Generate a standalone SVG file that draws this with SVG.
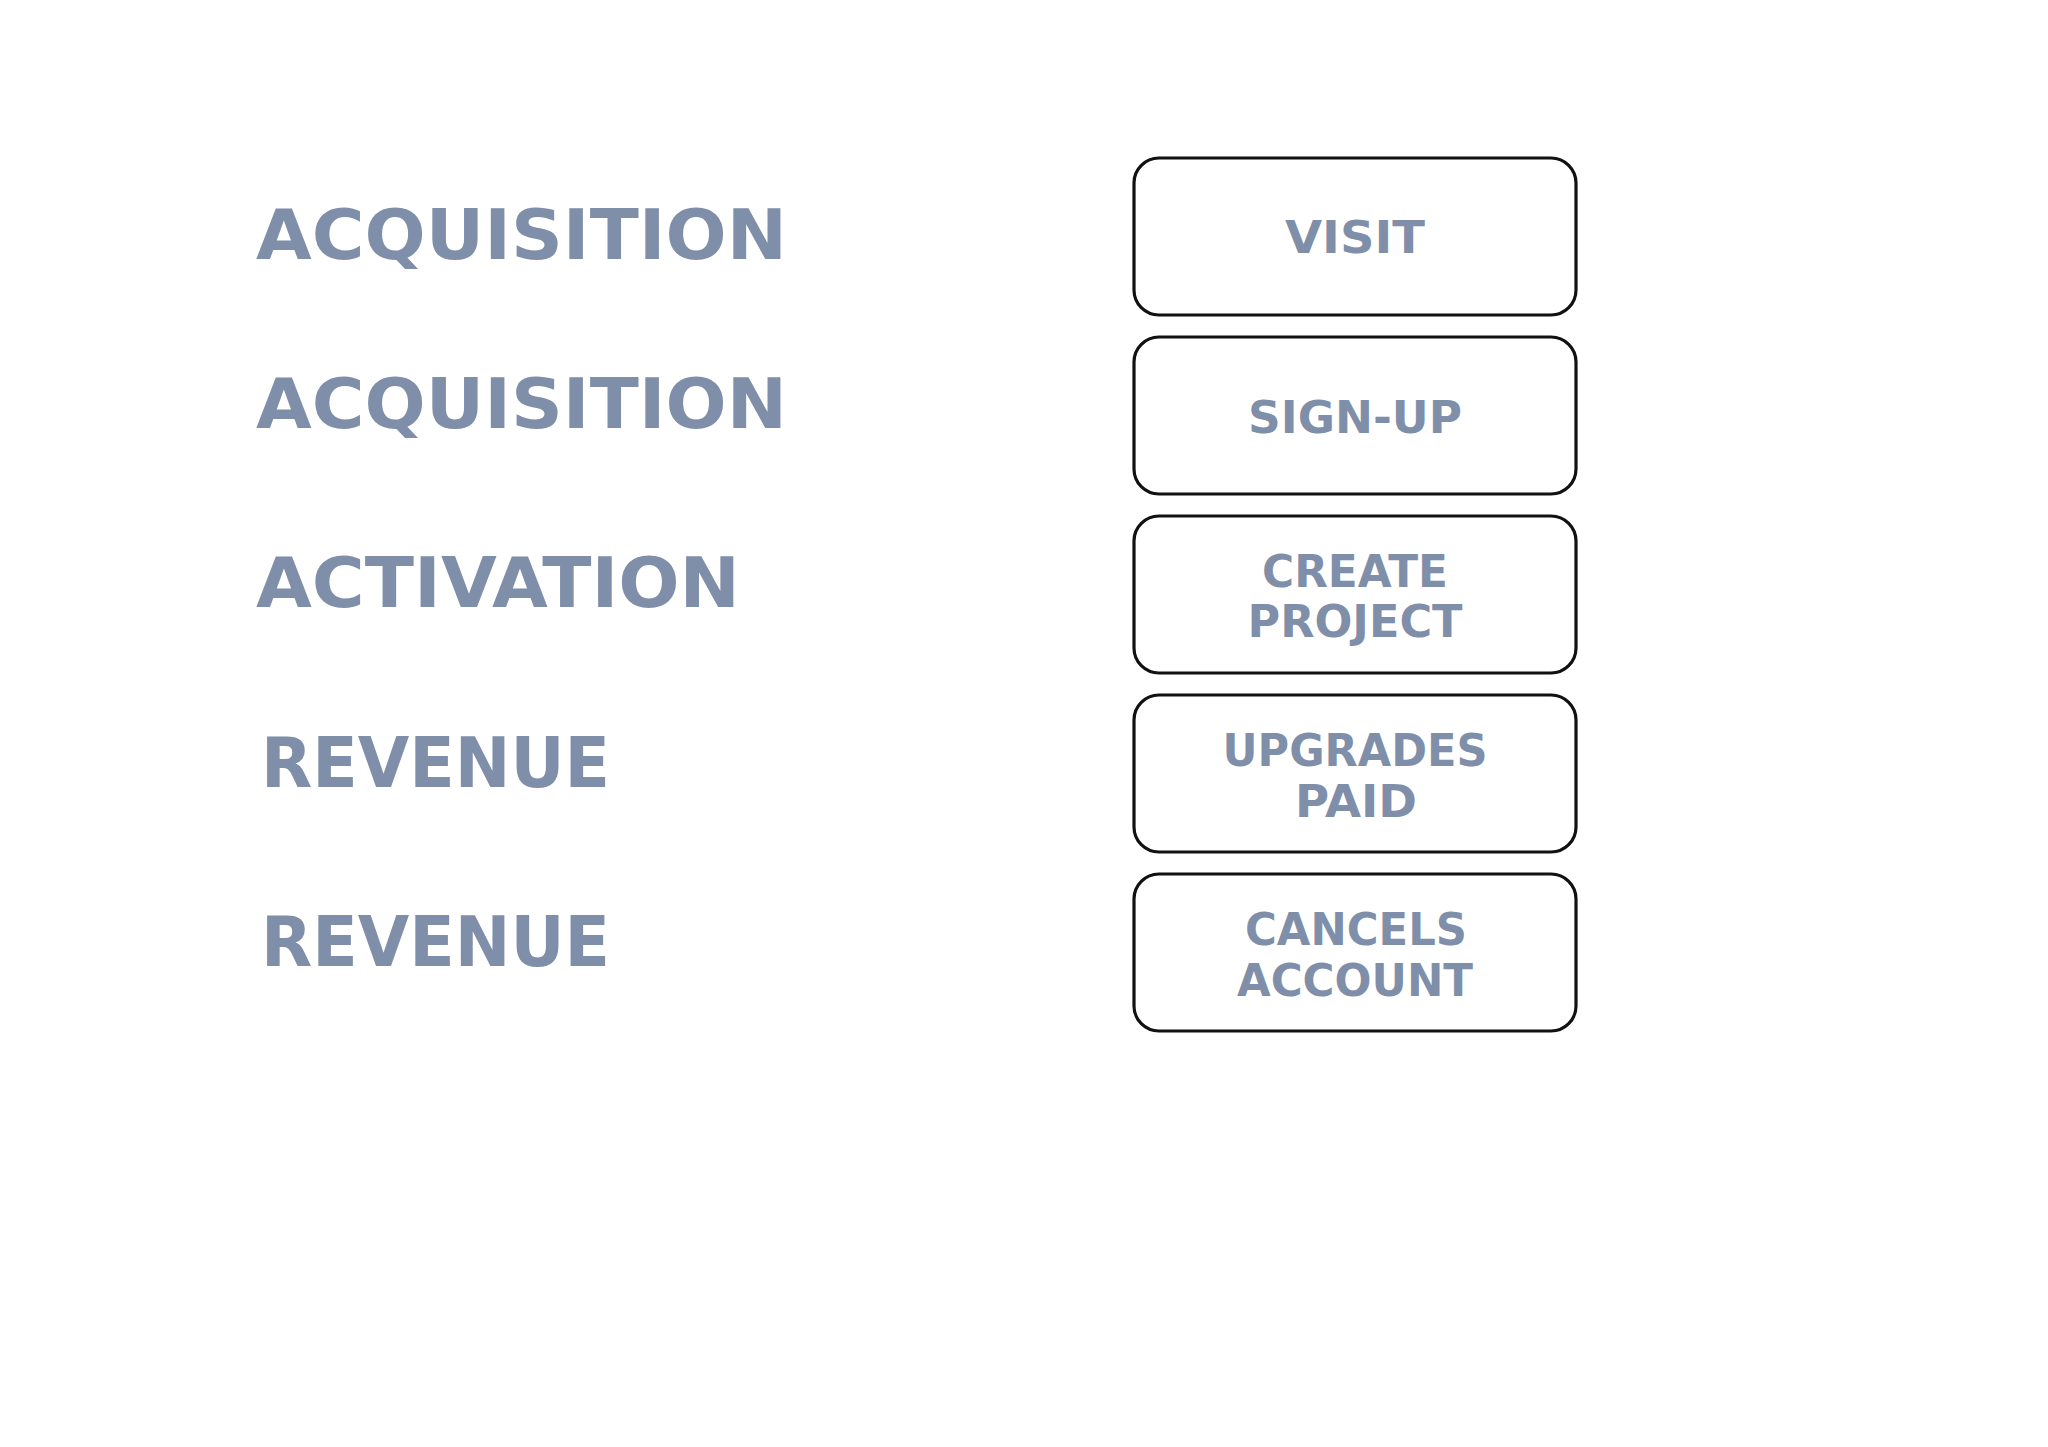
<svg xmlns="http://www.w3.org/2000/svg" width="2048" height="1447" viewBox="0 0 2048 1447">
<style>
.lbl{font-family:"DejaVu Sans","Verdana","Liberation Sans",sans-serif;font-weight:bold;fill:#7f8fa9;}
.big{font-size:69px;}
.small{font-size:44px;text-anchor:middle;}
.box{fill:#ffffff;stroke:#111111;stroke-width:3.2;}
</style>
<rect x="0" y="0" width="2048" height="1447" fill="#ffffff"/>
<g id="stages">
<g id="stage-acquisition-1"><text class="lbl big" x="256" y="259" textLength="531" lengthAdjust="spacingAndGlyphs">ACQUISITION</text></g>
<g id="stage-acquisition-2"><text class="lbl big" x="256" y="428" textLength="531" lengthAdjust="spacingAndGlyphs">ACQUISITION</text></g>
<g id="stage-activation"><text class="lbl big" x="256" y="607" textLength="484" lengthAdjust="spacingAndGlyphs">ACTIVATION</text></g>
<g id="stage-revenue-1"><text class="lbl big" x="261" y="787" textLength="349" lengthAdjust="spacingAndGlyphs">REVENUE</text></g>
<g id="stage-revenue-2"><text class="lbl big" x="261" y="966" textLength="349" lengthAdjust="spacingAndGlyphs">REVENUE</text></g>
</g>
<g id="connectors"></g>
<g id="node-visit">
<rect class="box" x="1134" y="158" width="442" height="157" rx="25" ry="25"/>
<text class="lbl small" x="1355" y="253" textLength="140" lengthAdjust="spacingAndGlyphs">VISIT</text>
</g>
<g id="node-signup">
<rect class="box" x="1134" y="337" width="442" height="157" rx="25" ry="25"/>
<text class="lbl small" x="1355" y="433" textLength="214" lengthAdjust="spacingAndGlyphs">SIGN-UP</text>
</g>
<g id="node-create-project">
<rect class="box" x="1134" y="516" width="442" height="157" rx="25" ry="25"/>
<text class="lbl small" x="1355" y="587" textLength="186" lengthAdjust="spacingAndGlyphs">CREATE</text>
<text class="lbl small" x="1355" y="637" textLength="215" lengthAdjust="spacingAndGlyphs">PROJECT</text>
</g>
<g id="node-upgrades-paid">
<rect class="box" x="1134" y="695" width="442" height="157" rx="25" ry="25"/>
<text class="lbl small" x="1355" y="766" textLength="265" lengthAdjust="spacingAndGlyphs">UPGRADES</text>
<text class="lbl small" x="1356" y="817" textLength="122" lengthAdjust="spacingAndGlyphs">PAID</text>
</g>
<g id="node-cancels-account">
<rect class="box" x="1134" y="874" width="442" height="157" rx="25" ry="25"/>
<text class="lbl small" x="1356" y="945" textLength="222" lengthAdjust="spacingAndGlyphs">CANCELS</text>
<text class="lbl small" x="1355" y="996" textLength="236" lengthAdjust="spacingAndGlyphs">ACCOUNT</text>
</g>
</svg>
